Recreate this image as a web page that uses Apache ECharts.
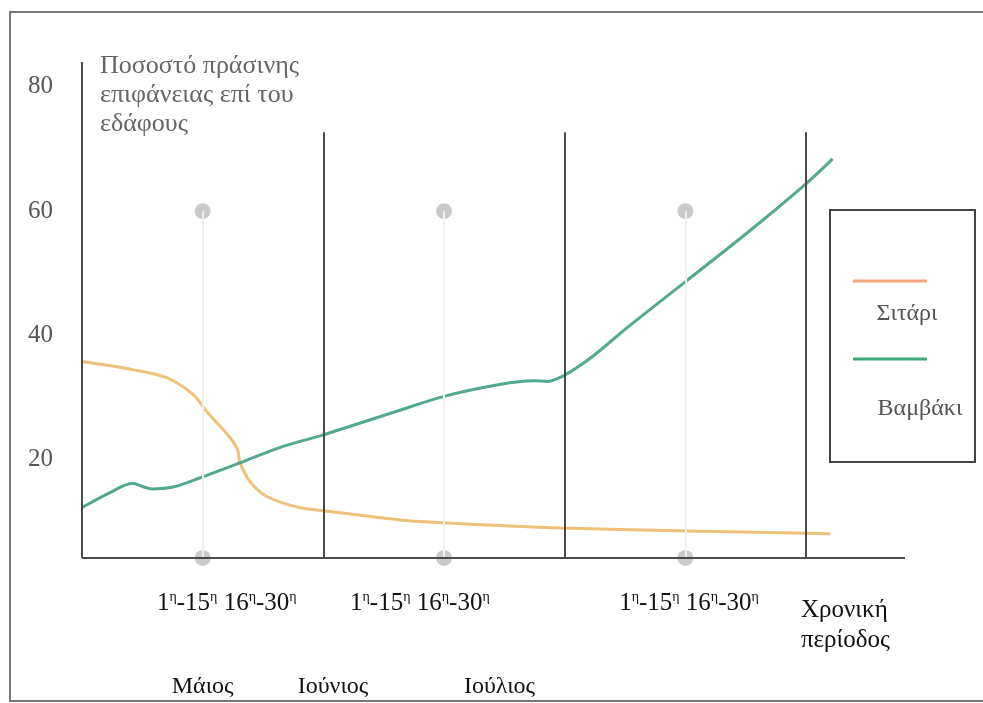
<!DOCTYPE html>
<html>
<head>
<meta charset="utf-8">
<title>Ποσοστό πράσινης επιφάνειας</title>
<script src="https://cdn.jsdelivr.net/npm/echarts@6/dist/echarts.min.js"></script>
<style>
  html, body { margin: 0; padding: 0; background: #fff; }
  #main { width: 983px; height: 703px; }
</style>
</head>
<body>
<div id="main"></div>
<script>
// x is measured in months from 1 May (0 = start of May, 1 = start of June ...)
var seriesNames = ["Σιτάρι", "Βαμβάκι"];

var wheatX = [0, 0.21, 0.35, 0.46, 0.52, 0.61, 0.645, 0.655, 0.70, 0.77, 0.90, 1.0, 1.32, 1.52, 1.73, 1.99, 2.56, 3.10];
var wheatY = [35.8, 34.5, 33.2, 30.5, 27.6, 23.7, 21.6, 19.5, 16.3, 14.0, 12.3, 11.8, 10.3, 9.8, 9.4, 9.0, 8.5, 8.1];

var cottonX = [0, 0.116, 0.21, 0.25, 0.29, 0.377, 0.49, 0.655, 0.83, 1.0, 1.32, 1.50, 1.73, 1.87, 1.93, 1.99, 2.08, 2.15, 2.26, 2.74, 3.0, 3.11];
var cottonY = [12.3, 14.7, 16.2, 15.7, 15.3, 15.6, 17.1, 19.5, 22.1, 24.0, 28.0, 30.2, 32.1, 32.7, 32.6, 33.4, 35.6, 37.7, 41.3, 56.0, 64.4, 68.4];

var periodValues = [0.6, 1.4, 2.515];
var periodLabels = ["1η-15η 16η-30η", "1η-15η 16η-30η", "1η-15η 16η-30η"];
var monthValues = [0.5, 1.04, 1.73];
var monthLabels = ["Μάιος", "Ιούνιος", "Ιούλιος"];
var yTicks = [20, 40, 60, 80];

var markerX = [0.5, 1.5, 2.5];
var markerTop = 60;
var dividerX = [1, 2, 3];
var dividerTop = 72.7;
var baseY = 4.2;
var xMax = 3.41;
var yMax = 84;

var serif = "Liberation Serif, DejaVu Serif, serif";

function pairs(xs, ys) {
  var out = [];
  for (var i = 0; i < xs.length; i++) out.push([xs[i], ys[i]]);
  return out;
}

var markerData = [];
var guideLines = [];
for (var i = 0; i < markerX.length; i++) {
  markerData.push([markerX[i], markerTop]);
  markerData.push([markerX[i], baseY]);
  guideLines.push([{ coord: [markerX[i], baseY] }, { coord: [markerX[i], markerTop] }]);
}
var frameLines = [
  [{ coord: [0, baseY] }, { coord: [0, yMax] }],
  [{ coord: [0, baseY] }, { coord: [xMax, baseY] }]
];
for (var j = 0; j < dividerX.length; j++) {
  frameLines.push([{ coord: [dividerX[j], baseY] }, { coord: [dividerX[j], dividerTop] }]);
}

var chart = echarts.init(document.getElementById("main"));
chart.setOption({
  animation: false,
  grid: { left: 82, right: 78, top: 62, bottom: 119 },
  xAxis: [
    {
      type: "value",
      min: 0,
      max: xMax,
      axisLine: { show: false },
      axisTick: { show: false },
      splitLine: { show: false },
      name: "Χρονική\nπερίοδος",
      nameLocation: "end",
      nameGap: -104,
      nameTextStyle: {
        fontFamily: serif, fontSize: 25, color: "#111",
        align: "left", verticalAlign: "top", lineHeight: 30, padding: [11, 0, 0, 0]
      },
      axisLabel: {
        customValues: periodValues,
        margin: 6,
        formatter: function (v) {
          var k = periodValues.indexOf(v);
          return k < 0 ? "" : periodLabels[k].replace(/η/g, "{s|η}");
        },
        fontFamily: serif, fontSize: 25, color: "#111", lineHeight: 26,
        rich: { s: { fontFamily: serif, fontSize: 14, color: "#111", verticalAlign: "top", lineHeight: 16 } }
      }
    },
    {
      type: "value",
      min: 0,
      max: xMax,
      position: "bottom",
      axisLine: { show: false },
      axisTick: { show: false },
      splitLine: { show: false },
      axisLabel: {
        customValues: monthValues,
        margin: 91,
        formatter: function (v) {
          var k = monthValues.indexOf(v);
          return k < 0 ? "" : monthLabels[k];
        },
        fontFamily: serif, fontSize: 24, color: "#111"
      }
    }
  ],
  yAxis: {
    type: "value",
    min: 0,
    max: yMax,
    interval: 20,
    axisLine: { show: false },
    axisTick: { show: false },
    splitLine: { show: false },
    axisLabel: {
      margin: 29,
      padding: [4, 0, 0, 0],
      formatter: function (v) { return yTicks.indexOf(v) >= 0 ? String(v) : ""; },
      fontFamily: serif, fontSize: 25, color: "#555"
    },
    name: "Ποσοστό πράσινης\nεπιφάνειας επί του\nεδάφους",
    nameLocation: "end",
    nameGap: 10,
    nameTextStyle: {
      fontFamily: serif, fontSize: 26, color: "#666",
      align: "left", verticalAlign: "top", lineHeight: 29, padding: [0, 0, 0, 18]
    }
  },
  series: [
    {
      type: "scatter",
      data: markerData,
      symbolSize: 16,
      itemStyle: { color: "#bdbdbd" },
      silent: true,
      z: 1,
      markLine: {
        silent: true,
        symbol: "none",
        label: { show: false },
        lineStyle: { color: "#f0f0f0", width: 2, type: "solid" },
        data: guideLines
      }
    },
    {
      name: seriesNames[0],
      type: "line",
      data: pairs(wheatX, wheatY),
      smooth: 0.3,
      showSymbol: false,
      lineStyle: { color: "#efc078", width: 3 },
      itemStyle: { color: "#efc078" },
      z: 3
    },
    {
      name: seriesNames[1],
      type: "line",
      data: pairs(cottonX, cottonY),
      smooth: 0.3,
      showSymbol: false,
      lineStyle: { color: "#52a890", width: 3 },
      itemStyle: { color: "#52a890" },
      z: 3,
      markLine: {
        silent: true,
        symbol: "none",
        label: { show: false },
        lineStyle: { color: "#4a4a4a", width: 2, type: "solid" },
        data: frameLines
      }
    }
  ],
  graphic: [
    {
      type: "rect",
      silent: true,
      shape: { x: 10, y: 12, width: 990, height: 689 },
      style: { fill: null, stroke: "#777", lineWidth: 2 }
    },
    {
      type: "group",
      left: 829,
      top: 209,
      children: [
        { type: "rect", shape: { x: 0, y: 0, width: 145, height: 252 }, style: { fill: "#fff", stroke: "#444", lineWidth: 2 } },
        { type: "line", shape: { x1: 23, y1: 71, x2: 97, y2: 71 }, style: { stroke: "#f3a37e", lineWidth: 3 } },
        { type: "text", x: 77, y: 104, style: { text: seriesNames[0], font: "24px " + serif, fill: "#555", align: "center", verticalAlign: "middle" } },
        { type: "line", shape: { x1: 23, y1: 149, x2: 97, y2: 149 }, style: { stroke: "#3fa87a", lineWidth: 3 } },
        { type: "text", x: 90, y: 199, style: { text: seriesNames[1], font: "24px " + serif, fill: "#555", align: "center", verticalAlign: "middle" } }
      ]
    }
  ]
});
</script>
</body>
</html>
